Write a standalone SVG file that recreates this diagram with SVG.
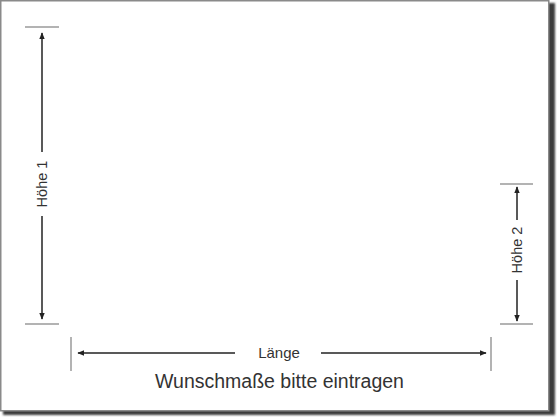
<svg xmlns="http://www.w3.org/2000/svg" width="560" height="420" viewBox="0 0 560 420">
  <defs>
    <style>
      .tick { stroke: #9a9a9a; stroke-width: 1.5; fill: none; }
      .dim { stroke: #222; stroke-width: 1.5; fill: none; }
      .lbl { font-family: "Liberation Sans", Arial, sans-serif; fill: #333; text-anchor: middle; }
    </style>
    <marker id="ah" viewBox="0 0 10 10" refX="9" refY="5" markerWidth="7" markerHeight="7" markerUnits="userSpaceOnUse" orient="auto-start-reverse">
      <path d="M0,1 L10,5 L0,9 z" fill="#222"/>
    </marker>
    <filter id="blur" x="-5%" y="-5%" width="110%" height="110%">
      <feGaussianBlur stdDeviation="1.2"/>
    </filter>
  </defs>
  <rect width="560" height="420" fill="#ffffff"/>
  <g id="frame">
    <rect x="3" y="3" width="552" height="412" fill="#3a3a3a" filter="url(#blur)"/>
    <rect x="0.75" y="0.75" width="548" height="410" fill="#ffffff" stroke="#8a8a8a" stroke-width="1.5"/>
  </g>
  <g id="connectors">
    <line class="dim" x1="42" y1="152" x2="42" y2="33" marker-end="url(#ah)"/>
    <line class="dim" x1="42" y1="216" x2="42" y2="319" marker-end="url(#ah)"/>
    <line class="dim" x1="517" y1="220" x2="517" y2="187" marker-end="url(#ah)"/>
    <line class="dim" x1="517" y1="280" x2="517" y2="321" marker-end="url(#ah)"/>
    <line class="dim" x1="235" y1="353" x2="78" y2="353" marker-end="url(#ah)"/>
    <line class="dim" x1="321" y1="353" x2="486" y2="353" marker-end="url(#ah)"/>
  </g>
  <g id="hoehe1">
    <line class="tick" x1="25" y1="27" x2="59" y2="27"/>
    <line class="tick" x1="25" y1="324" x2="59" y2="324"/>
    <text class="lbl" font-size="14.5" transform="translate(47,184) rotate(-90)">Höhe 1</text>
  </g>
  <g id="hoehe2">
    <line class="tick" x1="500" y1="184" x2="533" y2="184"/>
    <line class="tick" x1="500" y1="324" x2="533" y2="324"/>
    <text class="lbl" font-size="14.5" transform="translate(522,250) rotate(-90)">Höhe 2</text>
  </g>
  <g id="laenge">
    <line class="tick" x1="71" y1="337" x2="71" y2="371"/>
    <line class="tick" x1="491" y1="337" x2="491" y2="371"/>
    <text class="lbl" font-size="15" x="279" y="358">Länge</text>
  </g>
  <g id="caption">
    <text class="lbl" font-size="19.5" x="279.5" y="388">Wunschmaße bitte eintragen</text>
  </g>
</svg>
